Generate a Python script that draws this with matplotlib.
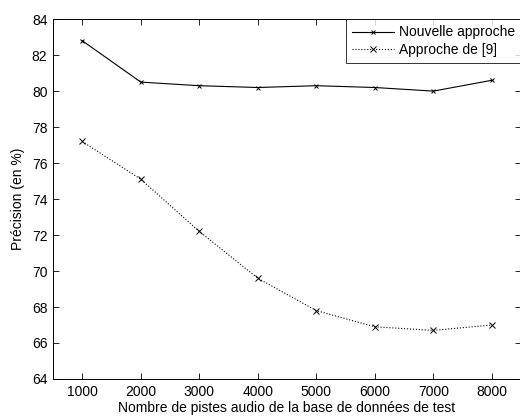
import matplotlib
matplotlib.use('Agg')
import matplotlib.pyplot as plt

# Values
tracks = [1000, 2000, 3000, 4000, 5000, 6000, 7000, 8000]
nouvelle = [82.8, 80.5, 80.3, 80.2, 80.3, 80.2, 80.0, 80.6]
approche9 = [77.2, 75.1, 72.2, 69.6, 67.8, 66.9, 66.7, 67.0]

plt.rcParams['font.family'] = ['Liberation Sans', 'DejaVu Sans']
plt.rcParams['font.size'] = 10

fig = plt.figure(figsize=(5.2, 4.16), dpi=100)
ax = fig.add_axes([0.102, 0.089, 0.900, 0.865])

ax.plot(tracks, nouvelle, color='black', linestyle='-', linewidth=0.8,
        marker='x', markersize=3.5, markeredgewidth=0.7, label='Nouvelle approche')
ax.plot(tracks, approche9, color='black', linestyle=':', linewidth=0.8,
        marker='x', markersize=4, markeredgewidth=0.7, label='Approche de [9]')

ax.set_xlim(500, 8500)
ax.set_ylim(64, 84)
ax.set_xticks(tracks)
ax.set_yticks(range(64, 85, 2))
ax.tick_params(direction='in', top=True, right=True, length=4, width=0.6,
               labelsize=10, pad=4)
for s in ax.spines.values():
    s.set_linewidth(0.7)

ax.set_xlabel('Nombre de pistes audio de la base de données de test', fontsize=10, labelpad=2)
ax.set_ylabel('Précision (en %)', fontsize=10, labelpad=5)

leg = ax.legend(loc='upper right', fontsize=10, frameon=True, fancybox=False,
                borderaxespad=0, handlelength=3.0, handletextpad=0.35,
                borderpad=0.45, labelspacing=0.25)
leg.get_frame().set_edgecolor('black')
leg.get_frame().set_linewidth(0.7)

fig.savefig('out.png', dpi=100)
